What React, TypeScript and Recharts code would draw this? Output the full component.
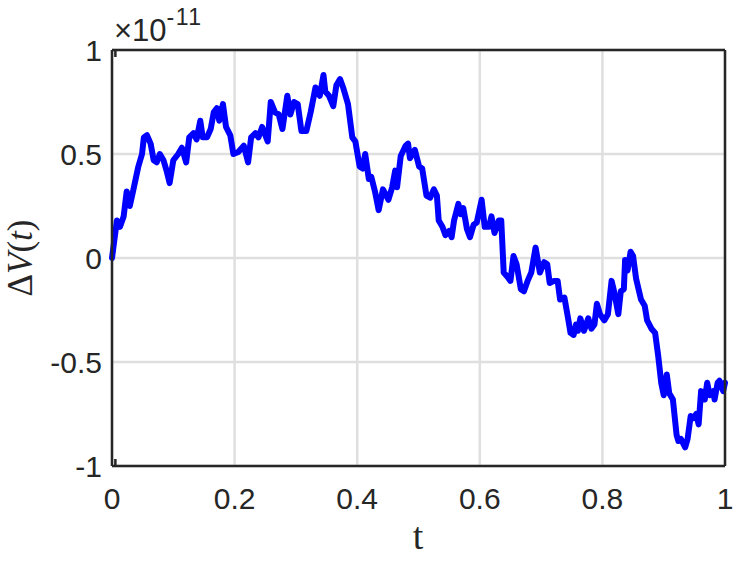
import { LineChart, Line, XAxis, YAxis, CartesianGrid } from 'recharts';

// t samples and ΔV(t) values in units of 1e-11
const tValues = [
  0.0, 0.008, 0.013, 0.019, 0.024, 0.029, 0.035, 0.043, 0.049, 0.052,
  0.057, 0.063, 0.068, 0.073, 0.078, 0.084, 0.089, 0.094, 0.1, 0.108,
  0.114, 0.121, 0.126, 0.133, 0.138, 0.144, 0.148, 0.155, 0.161, 0.166,
  0.171, 0.175, 0.181, 0.186, 0.193, 0.198, 0.206, 0.215, 0.222, 0.227,
  0.234, 0.239, 0.245, 0.254, 0.259, 0.266, 0.272, 0.278, 0.286, 0.291,
  0.297, 0.303, 0.309, 0.317, 0.324, 0.332, 0.339, 0.345, 0.348, 0.354,
  0.361, 0.366, 0.372, 0.377, 0.385, 0.392, 0.397, 0.404, 0.409, 0.413,
  0.419, 0.423, 0.429, 0.435, 0.442, 0.451, 0.457, 0.462, 0.465, 0.471,
  0.479, 0.483, 0.486, 0.494, 0.501, 0.506, 0.513, 0.519, 0.525, 0.53,
  0.533, 0.539, 0.544, 0.55, 0.554, 0.558, 0.565, 0.569, 0.573, 0.579,
  0.584, 0.59, 0.595, 0.603, 0.608, 0.615, 0.619, 0.624, 0.631, 0.635,
  0.639, 0.645, 0.65, 0.655, 0.66, 0.667, 0.672, 0.678, 0.684, 0.691,
  0.698, 0.705, 0.71, 0.714, 0.721, 0.727, 0.731, 0.738, 0.744, 0.748,
  0.753, 0.757, 0.76, 0.764, 0.77, 0.777, 0.782, 0.787, 0.791, 0.796,
  0.803, 0.809, 0.815, 0.819, 0.826, 0.83, 0.835, 0.837, 0.841, 0.846,
  0.85, 0.855, 0.863, 0.869, 0.873, 0.88, 0.886, 0.891, 0.896, 0.9,
  0.905, 0.909, 0.915, 0.921, 0.924, 0.928, 0.935, 0.939, 0.944, 0.949,
  0.953, 0.957, 0.961, 0.967, 0.971, 0.975, 0.981, 0.983, 0.988, 0.991,
  0.997, 1.0,
];

const dvValues = [
  0.0, 0.18, 0.15, 0.2, 0.32, 0.25, 0.33, 0.44, 0.5, 0.58,
  0.59, 0.55, 0.47, 0.46, 0.5, 0.47, 0.42, 0.36, 0.47, 0.5,
  0.53, 0.46, 0.58, 0.6, 0.57, 0.66, 0.58, 0.58, 0.62, 0.7,
  0.72, 0.66, 0.74, 0.63, 0.59, 0.5, 0.51, 0.54, 0.46, 0.58,
  0.6, 0.58, 0.63, 0.56, 0.75, 0.7, 0.69, 0.62, 0.78, 0.69,
  0.75, 0.74, 0.61, 0.61, 0.7, 0.82, 0.78, 0.88, 0.8, 0.78,
  0.73, 0.83, 0.86, 0.82, 0.74, 0.58, 0.56, 0.44, 0.43, 0.5,
  0.38, 0.39, 0.32, 0.23, 0.33, 0.28, 0.34, 0.42, 0.34, 0.49,
  0.54, 0.55, 0.48, 0.52, 0.44, 0.43, 0.3, 0.29, 0.33, 0.3,
  0.18, 0.15, 0.11, 0.13, 0.1, 0.18, 0.26, 0.21, 0.24, 0.14,
  0.1, 0.16, 0.17, 0.28, 0.15, 0.15, 0.2, 0.12, 0.18, 0.18,
  -0.07, -0.09, -0.11, 0.01, -0.03, -0.15, -0.16, -0.11, -0.07, 0.05,
  -0.07, -0.02, -0.03, -0.12, -0.11, -0.11, -0.2, -0.19, -0.29, -0.36,
  -0.37, -0.32, -0.35, -0.29, -0.35, -0.29, -0.34, -0.32, -0.22, -0.27,
  -0.3, -0.27, -0.11, -0.16, -0.27, -0.16, -0.15, -0.01, -0.06, 0.03,
  0.01, -0.1, -0.2, -0.23, -0.3, -0.34, -0.36, -0.47, -0.6, -0.66,
  -0.56, -0.65, -0.68, -0.85, -0.88, -0.87, -0.91, -0.87, -0.76, -0.77,
  -0.75, -0.8, -0.64, -0.68, -0.6, -0.66, -0.64, -0.68, -0.6, -0.59,
  -0.64, -0.6,
];

const xTicks = [0, 0.2, 0.4, 0.6, 0.8, 1];
const yTicks = [-1, -0.5, 0, 0.5, 1];

const data = tValues.map((t, i) => ({ t, dv: dvValues[i] }));

const axisColor = '#262626';
const gridColor = '#dfdfdf';
const sansFont = '"Liberation Sans", Arial, Helvetica, sans-serif';
const serifFont = '"Liberation Serif", "Times New Roman", serif';

const tickStyle = { fontFamily: sansFont, fontSize: 30, fill: axisColor };
const tickLineStyle = { stroke: axisColor, strokeWidth: 2.5 };
const axisLineStyle = { stroke: axisColor, strokeWidth: 2.5 };

const fmt = (v: number) => String(v);

// inner tick marks only: draw the tick line, no label
const NoLabel = () => <g />;

const XLabel = () => (
  <text x={418} y={549} textAnchor="middle" fontFamily={serifFont} fontSize={38} fill={axisColor}>
    t
  </text>
);

const YLabel = () => (
  <text
    x={32}
    y={258}
    textAnchor="middle"
    fontFamily={serifFont}
    fontSize={35}
    fill={axisColor}
    transform="rotate(-90, 32, 258)"
  >
    Δ<tspan fontStyle="italic">V</tspan>(<tspan fontStyle="italic">t</tspan>)
  </text>
);

const ExponentLabel = () => (
  <text x={114} y={41} fontFamily={sansFont} fontSize={31} fill={axisColor}>
    ×10
    <tspan fontSize={23} dy={-16} letterSpacing={1.5}>-11</tspan>
  </text>
);

export default function App() {
  return (
    <div style={{ position: 'absolute', left: 0, top: 0, background: '#fff' }}>
      <LineChart width={747} height={561} data={data} margin={{ top: 50, right: 22, bottom: 65, left: 52 }}>
        <CartesianGrid stroke={gridColor} strokeWidth={2.5} />
        <Line
          dataKey="dv"
          type="linear"
          stroke="#0000ff"
          strokeWidth={6}
          strokeLinejoin="round"
          strokeLinecap="round"
          dot={false}
          activeDot={false}
          isAnimationActive={false}
        />
        <XAxis
          dataKey="t"
          type="number"
          domain={[0, 1]}
          ticks={xTicks}
          tickFormatter={fmt}
          height={30}
          tickLine={false}
          tickSize={0}
          tickMargin={22}
          axisLine={axisLineStyle}
          tick={tickStyle}
          label={XLabel}
        />
        <XAxis
          xAxisId="bottomInner"
          type="number"
          domain={[0, 1]}
          ticks={xTicks}
          orientation="bottom"
          mirror
          tick={NoLabel}
          tickSize={7}
          tickLine={tickLineStyle}
          axisLine={false}
        />
        <XAxis
          xAxisId="top"
          type="number"
          domain={[0, 1]}
          ticks={xTicks}
          orientation="top"
          mirror
          tick={NoLabel}
          tickSize={7}
          tickLine={tickLineStyle}
          axisLine={axisLineStyle}
          label={ExponentLabel}
        />
        <YAxis
          type="number"
          domain={[-1, 1]}
          ticks={yTicks}
          tickFormatter={fmt}
          width={60}
          tickLine={false}
          tickSize={0}
          tickMargin={10}
          axisLine={axisLineStyle}
          tick={tickStyle}
          label={YLabel}
        />
        <YAxis
          yAxisId="leftInner"
          type="number"
          domain={[-1, 1]}
          ticks={yTicks}
          orientation="left"
          mirror
          tick={NoLabel}
          tickSize={7}
          tickLine={tickLineStyle}
          axisLine={false}
        />
        <YAxis
          yAxisId="right"
          type="number"
          domain={[-1, 1]}
          ticks={yTicks}
          orientation="right"
          mirror
          tick={NoLabel}
          tickSize={7}
          tickLine={tickLineStyle}
          axisLine={axisLineStyle}
        />
      </LineChart>
    </div>
  );
}
